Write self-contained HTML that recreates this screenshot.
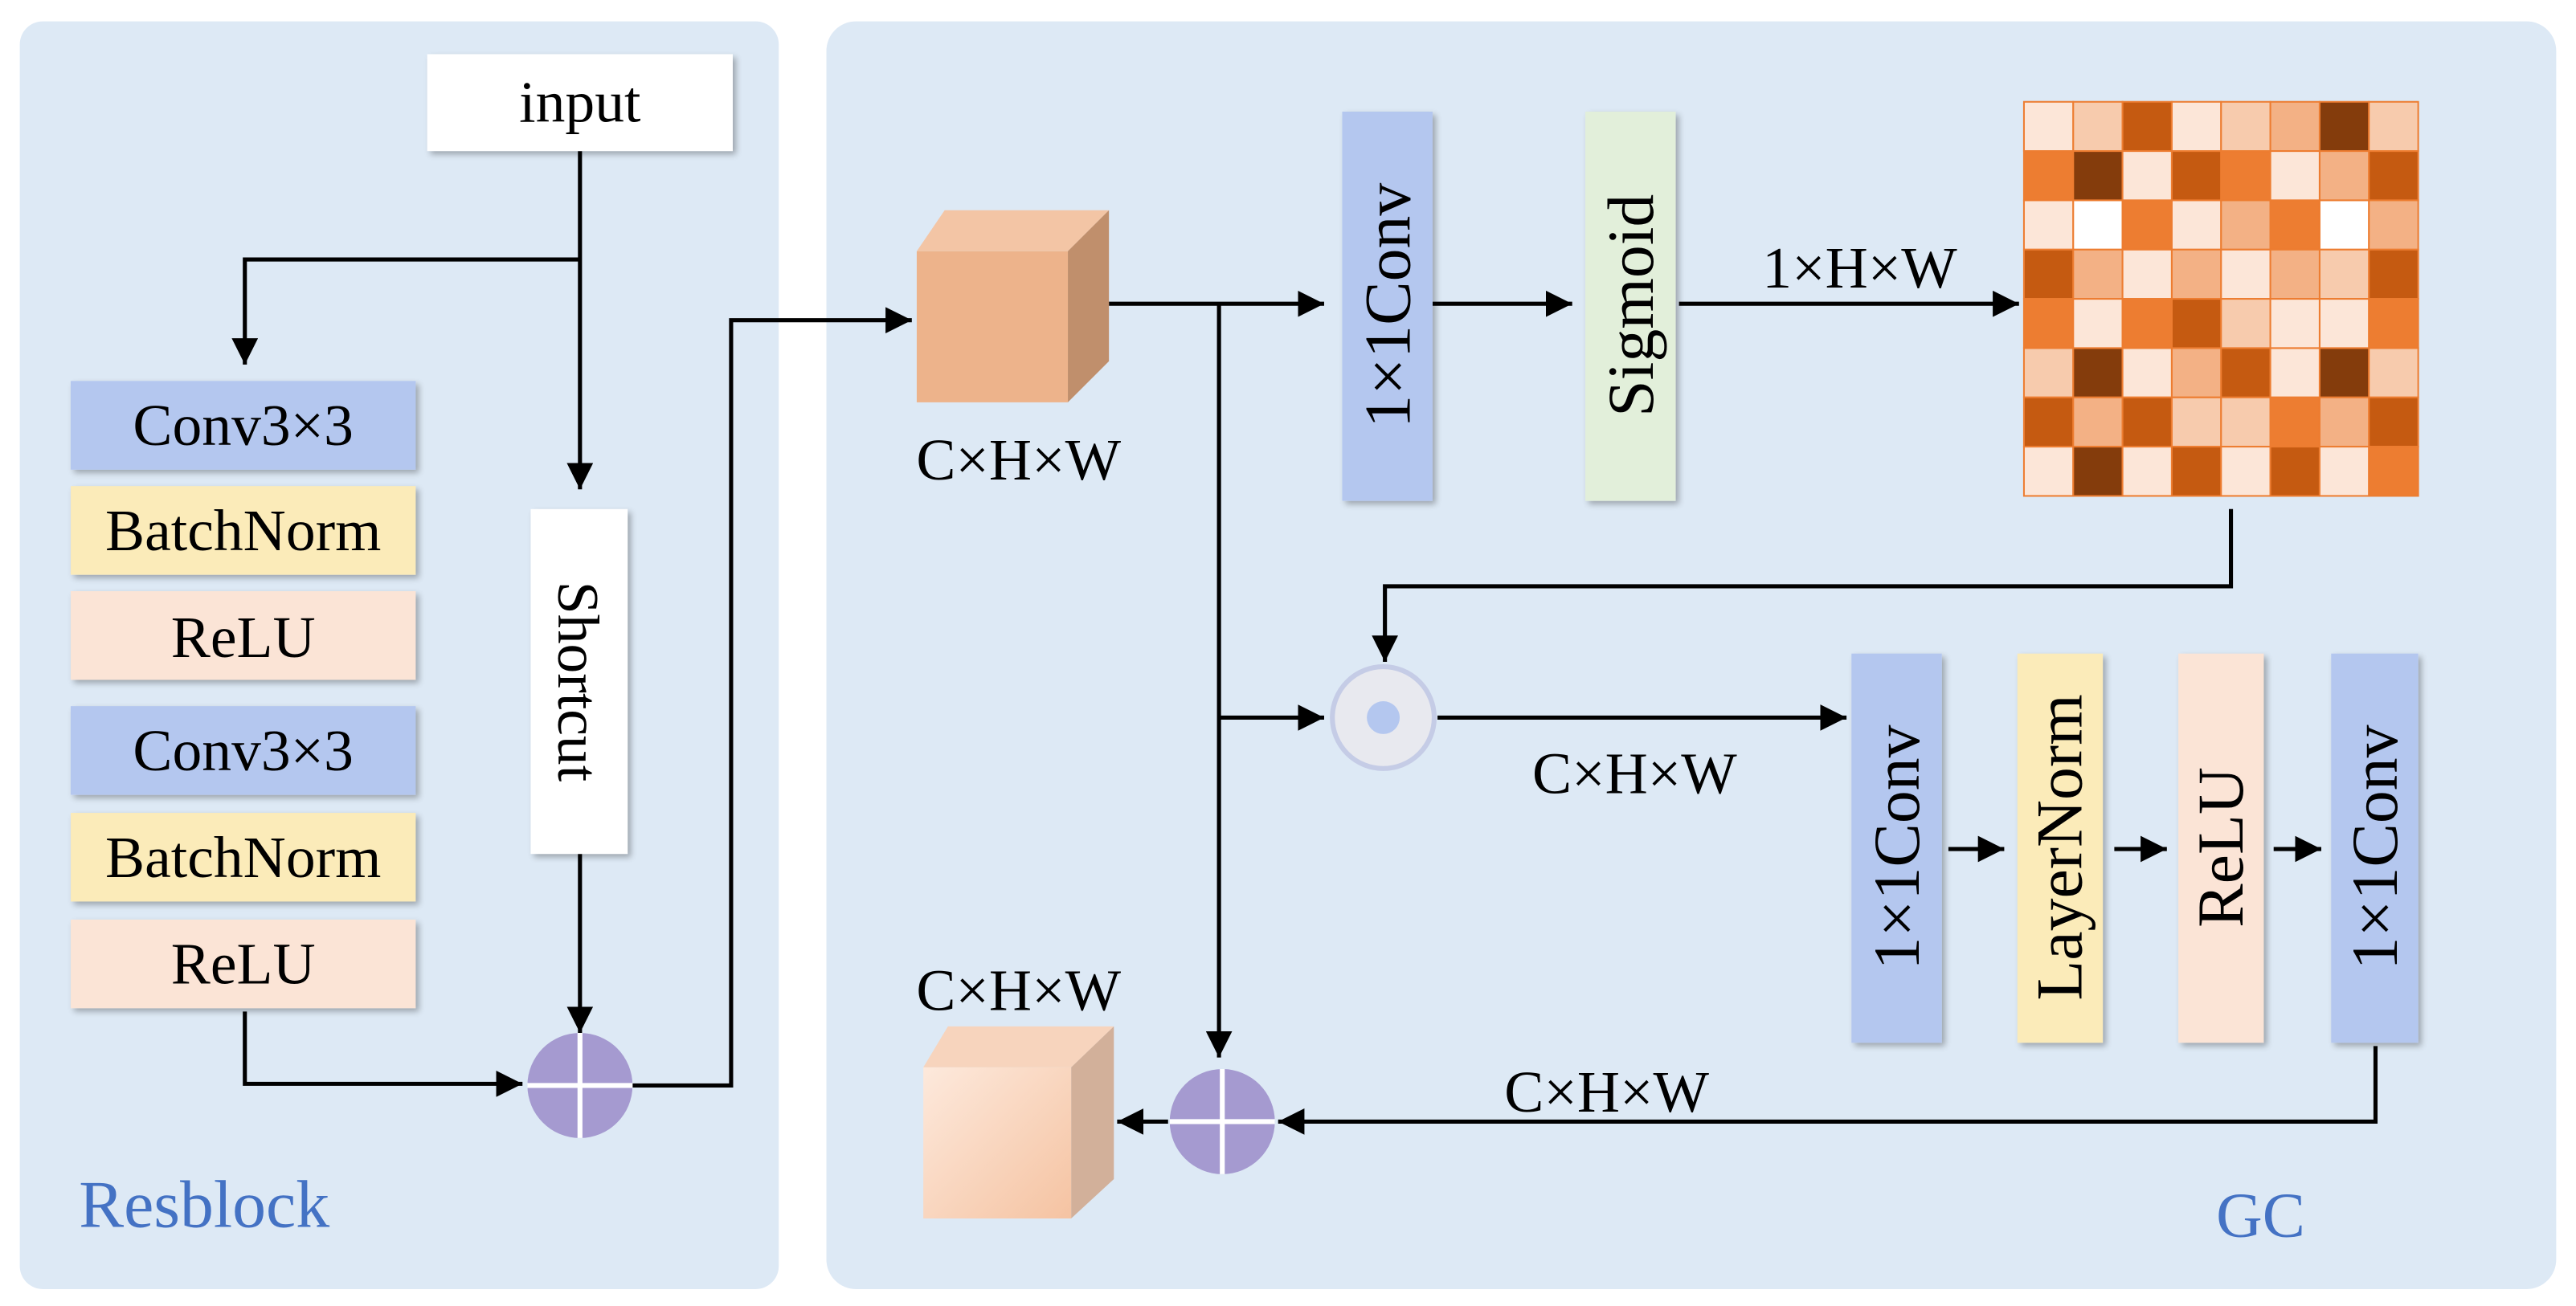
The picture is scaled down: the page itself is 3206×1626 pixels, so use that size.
<!DOCTYPE html>
<html><head><meta charset="utf-8"><style>
html,body{margin:0;padding:0;background:#fff;}
svg{display:block;}
text{font-family:"Liberation Serif",serif;fill:#000;}
</style></head><body>
<svg width="3206" height="1626" viewBox="0 0 1568 795.3" xmlns="http://www.w3.org/2000/svg">
<defs>
<marker id="a" viewBox="0 0 10 10" refX="10" refY="5" markerWidth="16" markerHeight="16" markerUnits="userSpaceOnUse" orient="auto"><path d="M0,0 L10,5 L0,10 z" fill="#000"/></marker>
<filter id="sh" x="-20%" y="-20%" width="140%" height="140%"><feGaussianBlur in="SourceAlpha" stdDeviation="2"/><feOffset dx="2" dy="2"/><feComponentTransfer><feFuncA type="linear" slope="0.3"/></feComponentTransfer><feMerge><feMergeNode/><feMergeNode in="SourceGraphic"/></feMerge></filter>
<filter id="bl"><feGaussianBlur stdDeviation="1.2"/></filter>
<linearGradient id="g2" x1="0" y1="0" x2="1" y2="1"><stop offset="0" stop-color="#fde9dc"/><stop offset="1" stop-color="#f5c3a2"/></linearGradient>
</defs>
<rect x="12" y="13" width="462" height="772" rx="14" fill="#dde9f5"/>
<rect x="503" y="13" width="1053" height="772" rx="18" fill="#dde9f5"/>

<g fill="none" stroke="#000" stroke-width="2.5">
<path d="M353,92 V298" marker-end="url(#a)"/>
<path d="M353,158 H149 V222" marker-end="url(#a)"/>
<path d="M353,520 V629" marker-end="url(#a)"/>
<path d="M149,616 V660 H318" marker-end="url(#a)"/>
<path d="M385,661 H445 V195 H555" marker-end="url(#a)"/>
<path d="M675,185 H806" marker-end="url(#a)"/>
<path d="M742,185 V644" marker-end="url(#a)"/>
<path d="M742,437 H806" marker-end="url(#a)"/>
<path d="M872,185 H957" marker-end="url(#a)"/>
<path d="M1022,185 H1229" marker-end="url(#a)"/>
<path d="M1358,310 V357 H843 V403" marker-end="url(#a)"/>
<path d="M875,437 H1124" marker-end="url(#a)"/>
<path d="M1186,517 H1220" marker-end="url(#a)"/>
<path d="M1287,517 H1319" marker-end="url(#a)"/>
<path d="M1384,517 H1413" marker-end="url(#a)"/>
<path d="M1446,637 V683 H778" marker-end="url(#a)"/>
<path d="M711,683 H680" marker-end="url(#a)"/>
</g>

<g filter="url(#sh)">
<rect x="260" y="33" width="186" height="59" fill="#fff"/>
<rect x="43" y="232" width="210" height="54" fill="#b4c7ef"/>
<rect x="43" y="296" width="210" height="54" fill="#fbebb9"/>
<rect x="43" y="360" width="210" height="54" fill="#fbe4d6"/>
<rect x="43" y="430" width="210" height="54" fill="#b4c7ef"/>
<rect x="43" y="495" width="210" height="54" fill="#fbebb9"/>
<rect x="43" y="560" width="210" height="54" fill="#fbe4d6"/>
<rect x="323" y="310" width="59" height="210" fill="#fff"/>
<rect x="817" y="68" width="55" height="237" fill="#b4c7ef"/>
<rect x="965" y="68" width="55" height="237" fill="#e2efda"/>
<rect x="1127" y="398" width="55" height="237" fill="#b4c7ef"/>
<rect x="1228" y="398" width="52" height="237" fill="#fbebb9"/>
<rect x="1326" y="398" width="52" height="237" fill="#fbe4d6"/>
<rect x="1419" y="398" width="53" height="237" fill="#b4c7ef"/>
</g>

<g font-size="36" text-anchor="middle">
<text x="353" y="74">input</text>
<text x="148" y="271">Conv3×3</text>
<text x="148" y="335">BatchNorm</text>
<text x="148" y="400">ReLU</text>
<text x="148" y="469">Conv3×3</text>
<text x="148" y="534">BatchNorm</text>
<text x="148" y="599">ReLU</text>
<text transform="translate(340,415) rotate(90)">Shortcut</text>
<text font-size="40" transform="translate(858,186) rotate(-90)">1×1Conv</text>
<text font-size="40" transform="translate(1006,186) rotate(-90)">Sigmoid</text>
<text font-size="40" transform="translate(1168,516) rotate(-90)">1×1Conv</text>
<text font-size="40" transform="translate(1267,516) rotate(-90)">LayerNorm</text>
<text font-size="40" transform="translate(1365,516) rotate(-90)">ReLU</text>
<text font-size="40" transform="translate(1459,516) rotate(-90)">1×1Conv</text>
<text x="620" y="292">C×H×W</text>
<text x="620" y="615">C×H×W</text>
<text x="1132" y="175">1×H×W</text>
<text x="995" y="483">C×H×W</text>
<text x="978" y="677">C×H×W</text>
</g>
<text x="48" y="747" font-size="41" style="fill:#4472c4">Resblock</text>
<text x="1349" y="753" font-size="39" style="fill:#4472c4">GC</text>

<polygon points="558,153 575,128 675,128 650,153" fill="#f3c5a5"/>
<polygon points="650,153 675,128 675,220 650,245" fill="#c08f6c"/>
<rect x="558" y="153" width="92" height="92" fill="#edb38b"/>
<polygon points="562,650 577,625 678,625 652,650" fill="#f7d4bd"/>
<polygon points="652,650 678,625 678,718 652,742" fill="#d2b09a"/>
<rect x="562" y="650" width="90" height="92" fill="url(#g2)"/>

<g>
<circle cx="353" cy="661" r="32" fill="#a59ad0"/>
<path d="M353,629 V693 M321,661 H385" stroke="#fff" stroke-width="3"/>
<circle cx="744" cy="683" r="32" fill="#a59ad0"/>
<path d="M744,651 V715 M712,683 H776" stroke="#fff" stroke-width="3"/>
<circle cx="842" cy="437" r="31" fill="#e8e9ef" stroke="#c5cce6" stroke-width="3"/>
<circle cx="842" cy="437" r="10" fill="#b4c7ef"/>
</g>

<g stroke="#ed7d31" stroke-width="1">
<rect x="1232" y="62" width="30" height="30" fill="#fce6d8"/><rect x="1262" y="62" width="30" height="30" fill="#f7cbad"/><rect x="1292" y="62" width="30" height="30" fill="#c55a11"/><rect x="1322" y="62" width="30" height="30" fill="#fce6d8"/><rect x="1352" y="62" width="30" height="30" fill="#f7cbad"/><rect x="1382" y="62" width="30" height="30" fill="#f3b185"/><rect x="1412" y="62" width="30" height="30" fill="#843c0c"/><rect x="1442" y="62" width="30" height="30" fill="#f7cbad"/>
<rect x="1232" y="92" width="30" height="30" fill="#ed7d31"/><rect x="1262" y="92" width="30" height="30" fill="#843c0c"/><rect x="1292" y="92" width="30" height="30" fill="#fce6d8"/><rect x="1322" y="92" width="30" height="30" fill="#c55a11"/><rect x="1352" y="92" width="30" height="30" fill="#ed7d31"/><rect x="1382" y="92" width="30" height="30" fill="#fce6d8"/><rect x="1412" y="92" width="30" height="30" fill="#f3b185"/><rect x="1442" y="92" width="30" height="30" fill="#c55a11"/>
<rect x="1232" y="122" width="30" height="30" fill="#fce6d8"/><rect x="1262" y="122" width="30" height="30" fill="#ffffff"/><rect x="1292" y="122" width="30" height="30" fill="#ed7d31"/><rect x="1322" y="122" width="30" height="30" fill="#fce6d8"/><rect x="1352" y="122" width="30" height="30" fill="#f3b185"/><rect x="1382" y="122" width="30" height="30" fill="#ed7d31"/><rect x="1412" y="122" width="30" height="30" fill="#ffffff"/><rect x="1442" y="122" width="30" height="30" fill="#f3b185"/>
<rect x="1232" y="152" width="30" height="30" fill="#c55a11"/><rect x="1262" y="152" width="30" height="30" fill="#f3b185"/><rect x="1292" y="152" width="30" height="30" fill="#fce6d8"/><rect x="1322" y="152" width="30" height="30" fill="#f3b185"/><rect x="1352" y="152" width="30" height="30" fill="#fce6d8"/><rect x="1382" y="152" width="30" height="30" fill="#f3b185"/><rect x="1412" y="152" width="30" height="30" fill="#f7cbad"/><rect x="1442" y="152" width="30" height="30" fill="#c55a11"/>
<rect x="1232" y="182" width="30" height="30" fill="#ed7d31"/><rect x="1262" y="182" width="30" height="30" fill="#fce6d8"/><rect x="1292" y="182" width="30" height="30" fill="#ed7d31"/><rect x="1322" y="182" width="30" height="30" fill="#c55a11"/><rect x="1352" y="182" width="30" height="30" fill="#f7cbad"/><rect x="1382" y="182" width="30" height="30" fill="#fce6d8"/><rect x="1412" y="182" width="30" height="30" fill="#fce6d8"/><rect x="1442" y="182" width="30" height="30" fill="#ed7d31"/>
<rect x="1232" y="212" width="30" height="30" fill="#f7cbad"/><rect x="1262" y="212" width="30" height="30" fill="#843c0c"/><rect x="1292" y="212" width="30" height="30" fill="#fce6d8"/><rect x="1322" y="212" width="30" height="30" fill="#f3b185"/><rect x="1352" y="212" width="30" height="30" fill="#c55a11"/><rect x="1382" y="212" width="30" height="30" fill="#fce6d8"/><rect x="1412" y="212" width="30" height="30" fill="#843c0c"/><rect x="1442" y="212" width="30" height="30" fill="#f7cbad"/>
<rect x="1232" y="242" width="30" height="30" fill="#c55a11"/><rect x="1262" y="242" width="30" height="30" fill="#f3b185"/><rect x="1292" y="242" width="30" height="30" fill="#c55a11"/><rect x="1322" y="242" width="30" height="30" fill="#f7cbad"/><rect x="1352" y="242" width="30" height="30" fill="#f7cbad"/><rect x="1382" y="242" width="30" height="30" fill="#ed7d31"/><rect x="1412" y="242" width="30" height="30" fill="#f3b185"/><rect x="1442" y="242" width="30" height="30" fill="#c55a11"/>
<rect x="1232" y="272" width="30" height="30" fill="#fce6d8"/><rect x="1262" y="272" width="30" height="30" fill="#843c0c"/><rect x="1292" y="272" width="30" height="30" fill="#fce6d8"/><rect x="1322" y="272" width="30" height="30" fill="#c55a11"/><rect x="1352" y="272" width="30" height="30" fill="#fce6d8"/><rect x="1382" y="272" width="30" height="30" fill="#c55a11"/><rect x="1412" y="272" width="30" height="30" fill="#fce6d8"/><rect x="1442" y="272" width="30" height="30" fill="#ed7d31"/>
</g>
</svg>
</body></html>
